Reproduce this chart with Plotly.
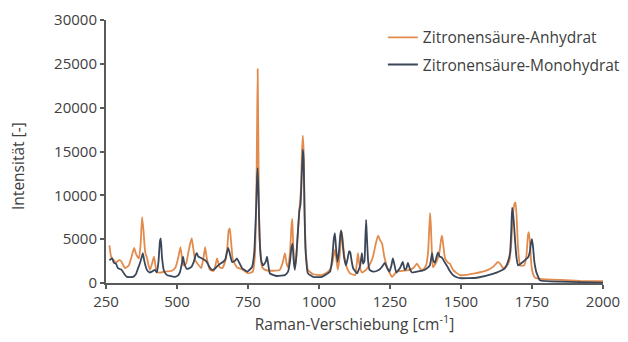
import plotly.graph_objects as go

# Zitronensäure-Anhydrat (orange)
anh_x = [262, 268, 275, 285, 295, 303, 317, 330, 340, 349, 356, 366, 372, 377, 382, 388, 394, 400, 405, 412,
         419, 424, 429, 445, 458, 482, 495, 505, 512, 517, 522, 532, 540, 547, 552, 557, 564, 570, 585, 593,
         599, 605, 616, 630, 641, 650, 660, 670, 677, 682, 686, 691, 697, 711, 732, 750, 767, 774, 779, 782,
         784, 786, 789, 794, 800, 810, 834, 862, 872, 880, 886, 891, 898, 903, 906, 909, 914, 919, 925, 931,
         936, 940, 943, 946, 949, 953, 961, 979, 1010, 1032, 1045, 1052, 1056, 1060, 1066, 1072, 1078, 1081, 1086, 1092,
         1099, 1109, 1127, 1133, 1137, 1142, 1151, 1165, 1180, 1190, 1200, 1208, 1215, 1222, 1230, 1240, 1257, 1274, 1300, 1320,
         1335, 1345, 1355, 1363, 1377, 1384, 1388, 1391, 1394, 1398, 1401, 1410, 1416, 1424, 1430, 1433, 1437, 1444, 1455, 1461,
         1472, 1496, 1549, 1595, 1615, 1630, 1640, 1648, 1660, 1670, 1677, 1682, 1688, 1692, 1696, 1700, 1708, 1722, 1730, 1736,
         1739, 1743, 1748, 1753, 1761, 1785, 1850, 1920, 2000]
anh_y = [4300, 3000, 2700, 2300, 2600, 2500, 1700, 2000, 3000, 4000, 3300, 2800, 4500, 7500, 6000, 3500, 2900, 2000, 1500, 2200,
         3000, 2000, 1250, 1200, 1300, 1400, 1800, 3000, 4100, 3000, 2000, 2200, 3500, 4600, 5100, 4000, 2600, 2300, 1700, 2800,
         4100, 2800, 1500, 1400, 2800, 1800, 1700, 2500, 4000, 6000, 6200, 4500, 2600, 1800, 1500, 1100, 1300, 3000, 9000, 18000,
         24400, 18000, 8000, 3200, 1800, 1500, 1400, 1500, 2300, 3400, 2200, 1800, 3500, 6500, 7300, 4500, 1800, 2500, 5500, 8300,
         10500, 15000, 16800, 15000, 9000, 4000, 1500, 1000, 900, 1300, 2000, 3200, 3800, 3000, 1500, 2800, 5200, 5800, 4000, 2500,
         1700, 1100, 900, 2200, 3400, 2200, 1200, 1500, 2200, 3000, 4500, 5400, 4900, 4500, 3000, 1800, 700, 1300, 1400, 1500,
         1800, 2200, 1700, 1400, 2000, 3500, 6000, 8000, 6500, 3000, 1800, 2200, 2600, 3500, 5000, 5400, 4500, 2800, 2300, 2200,
         1500, 900, 1100, 1500, 1900, 2400, 2100, 1700, 1900, 2500, 4500, 7500, 9000, 9200, 7500, 4500, 2000, 2000, 3000, 5500,
         5800, 4500, 2000, 1100, 600, 450, 350, 250, 200]

# Zitronensäure-Monohydrat (dark slate)
mono_x = [262, 271, 278, 285, 292, 305, 315, 324, 345, 355, 363, 370, 376, 380, 385, 394, 403, 412, 422, 429,
          435, 440, 443, 447, 454, 465, 475, 493, 505, 511, 517, 521, 526, 535, 550, 560, 566, 570, 575, 588,
          599, 605, 615, 623, 632, 641, 652, 662, 670, 676, 680, 685, 694, 703, 711, 718, 729, 747, 764, 772,
          778, 782, 784, 787, 791, 797, 803, 812, 817, 821, 827, 840, 852, 880, 891, 898, 903, 907, 911, 915,
          920, 926, 931, 935, 939, 943, 946, 949, 953, 961, 979, 1010, 1039, 1047, 1052, 1056, 1060, 1065, 1070, 1075,
          1078, 1082, 1088, 1095, 1101, 1106, 1110, 1115, 1120, 1134, 1145, 1151, 1155, 1160, 1163, 1166, 1169, 1173, 1178, 1190,
          1205, 1215, 1225, 1232, 1240, 1248, 1255, 1260, 1265, 1272, 1285, 1295, 1302, 1308, 1313, 1320, 1327, 1345, 1363, 1377,
          1390, 1395, 1398, 1402, 1408, 1414, 1419, 1425, 1433, 1442, 1450, 1460, 1472, 1485, 1496, 1556, 1609, 1640, 1655, 1666,
          1673, 1677, 1680, 1683, 1687, 1690, 1695, 1701, 1710, 1718, 1728, 1736, 1742, 1746, 1750, 1754, 1758, 1764, 1768, 1778,
          1850, 1920, 2000]
mono_y = [2600, 2800, 2300, 2200, 1700, 1500, 1000, 700, 700, 1000, 1700, 2300, 3000, 3400, 2500, 1500, 1200, 1300, 1500, 1200,
          2500, 4800, 5100, 3000, 1400, 900, 800, 700, 900, 1300, 2200, 3000, 2200, 1600, 1800, 2500, 3200, 3400, 3000, 2800,
          2600, 2400, 1800, 1500, 1600, 1900, 2200, 2400, 2700, 3500, 4000, 3500, 2400, 2500, 2800, 2400, 1700, 1300, 1800, 3500,
          8000, 12000, 13100, 10000, 5000, 2500, 2000, 2400, 3000, 2200, 1100, 900, 800, 900, 1300, 2500, 4000, 4500, 2500, 1500,
          3000, 6000, 8300, 9000, 12000, 15200, 14000, 8000, 3500, 1100, 700, 700, 1300, 3000, 5000, 5700, 4000, 2400, 3500, 5500,
          6000, 5000, 3000, 2000, 2800, 3600, 3500, 2500, 1700, 1100, 2000, 3400, 2200, 2500, 5000, 7200, 5000, 2500, 1500, 1300,
          1400, 1600, 2000, 2300, 1700, 1300, 2000, 2800, 2200, 1200, 1700, 2400, 1500, 1700, 2300, 1600, 1200, 1300, 1400, 1600,
          2000, 2800, 3400, 2600, 2300, 3000, 3500, 3000, 2900, 2400, 2000, 1400, 900, 650, 550, 600, 1000, 1400, 1700, 2500,
          3500, 6000, 8600, 8000, 6500, 5000, 3000, 2000, 2200, 2400, 2700, 2900, 3500, 4500, 5000, 4000, 2500, 1400, 1000, 300,
          150, 100, 50]

x_ticks = [250, 500, 750, 1000, 1250, 1500, 1750, 2000]
y_ticks = [0, 5000, 10000, 15000, 20000, 25000, 30000]

ORANGE = "#E38B4C"
DARK = "#3B4759"
AXIS = "#5A5A5A"
TEXT = "#404040"
FONT = "Open Sans"

fig = go.Figure()
fig.add_trace(go.Scatter(x=anh_x, y=anh_y, mode="lines", name="Zitronensäure-Anhydrat",
                         legendgroup="a", line=dict(color=ORANGE, width=1.8, shape="spline", smoothing=0.4)))
fig.add_trace(go.Scatter(x=mono_x, y=mono_y, mode="lines", name="Zitronensäure-Monohydrat",
                         legendgroup="b", line=dict(color=DARK, width=1.8, shape="spline", smoothing=0.4)))

axis_common = dict(showgrid=False, zeroline=False, showline=True, linecolor=AXIS, linewidth=2,
                   ticks="outside", ticklen=4, tickwidth=1.5, tickcolor=AXIS, automargin=False,
                   tickfont=dict(size=15, color=TEXT))

fig.update_layout(
    width=628, height=342,
    margin=dict(l=106, r=25, t=20, b=59, autoexpand=False),
    paper_bgcolor="white", plot_bgcolor="white",
    font=dict(family=FONT, size=15, color=TEXT),
    xaxis=dict(range=[250, 2000], tickvals=x_ticks, ticktext=[str(v) for v in x_ticks],
               title=dict(text="Raman-Verschiebung [cm<sup>-1</sup>]", standoff=7, font=dict(size=15.5)),
               **axis_common),
    yaxis=dict(range=[0, 30000], tickvals=y_ticks, ticktext=[str(v) for v in y_ticks],
               **axis_common),
    xaxis2=dict(overlaying="x", anchor="y", side="bottom", range=[250, 2000], tickvals=x_ticks,
                showticklabels=False, showgrid=False, zeroline=False, showline=False,
                ticks="inside", ticklen=5, tickwidth=1.5, tickcolor=AXIS),
    yaxis2=dict(overlaying="y", anchor="x", side="left", range=[0, 30000], tickvals=y_ticks,
                showticklabels=False, showgrid=False, zeroline=False, showline=False,
                ticks="inside", ticklen=5, tickwidth=1.5, tickcolor=AXIS),
    legend=dict(x=1.046, y=0.997, xanchor="right", yanchor="top", bgcolor="rgba(0,0,0,0)",
                font=dict(size=15.5, color=TEXT), tracegroupgap=4),
    annotations=[dict(text="Intensität [-]", textangle=-90, xref="paper", yref="paper",
                      x=0, y=0.445, xanchor="center", yanchor="middle", xshift=-88,
                      showarrow=False, font=dict(size=15.5, color=TEXT))],
    showlegend=True,
)

fig.write_html("out.html", config={"displayModeBar": False},
               post_script="document.body.style.margin='0';")
